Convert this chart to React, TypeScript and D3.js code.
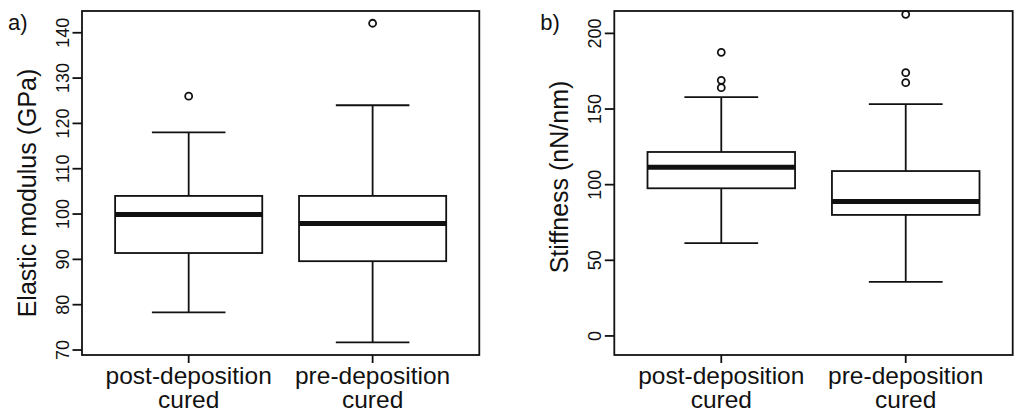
import React from 'react';
import * as d3 from 'd3';

// group labels (two lines each)
const groupLabels = [['post-deposition', 'cured'], ['pre-deposition', 'cured']];

// a) elastic modulus, GPa
const modulusLow = [78.3, 71.7];
const modulusQ1 = [91.4, 89.6];
const modulusMedian = [99.9, 97.9];
const modulusQ3 = [104.0, 104.0];
const modulusHigh = [118.0, 124.0];
const modulusOutliers = [[126.0], [142.1]];
const modulusTicks = [70, 80, 90, 100, 110, 120, 130, 140];

// b) stiffness, nN/nm
const stiffnessLow = [61.3, 35.7];
const stiffnessQ1 = [97.6, 80.0];
const stiffnessMedian = [111.5, 88.8];
const stiffnessQ3 = [121.6, 109.0];
const stiffnessHigh = [157.9, 153.3];
const stiffnessOutliers = [[187.5, 169.0, 164.1], [212.6, 174.0, 167.4]];
const stiffnessTicks = [0, 50, 100, 150, 200];

const ink = '#111';
const font = '"Liberation Sans", Arial, Helvetica, sans-serif';

type PanelProps = {
  tag: string;
  title: string;
  titleY: number;
  left: number;
  right: number;
  domain: [number, number];
  ticks: number[];
  low: number[];
  q1: number[];
  median: number[];
  q3: number[];
  high: number[];
  outliers: number[][];
};

const top = 11;
const bottom = 355;

const Panel = (p: PanelProps) => {
  const x = d3.scaleLinear().domain([0.42, 2.58]).range([p.left, p.right]);
  const y = d3.scaleLinear().domain(p.domain).range([bottom, top]);
  const boxHalf = x(0.4) - x(0);
  const capHalf = x(0.2) - x(0);

  return (
    <g>
      <text x={p.left - 74} y={30} fontSize={22} fontFamily={font} fill={ink}>{p.tag}</text>
      <text
        transform={`translate(${p.left - 46},${p.titleY}) rotate(-90)`}
        textAnchor="middle"
        fontSize={25}
        fontFamily={font}
        fill={ink}
      >
        {p.title}
      </text>
      {p.ticks.map(t => (
        <g key={t}>
          <line x1={p.left - 9.5} x2={p.left} y1={y(t)} y2={y(t)} stroke={ink} strokeWidth={1.8} />
          <text
            transform={`translate(${p.left - 13},${y(t)}) rotate(-90)`}
            textAnchor="middle"
            fontSize={18}
            fontFamily={font}
            fill={ink}
          >
            {t}
          </text>
        </g>
      ))}
      {groupLabels.map((lines, i) => (
        <g key={i}>
          <line x1={x(i + 1)} x2={x(i + 1)} y1={bottom} y2={bottom + 8} stroke={ink} strokeWidth={1.8} />
          {lines.map((l, j) => (
            <text
              key={j}
              x={x(i + 1)}
              y={383.5 + j * 24.5}
              textAnchor="middle"
              fontSize={24.5}
              fontFamily={font}
              fill={ink}
            >
              {l}
            </text>
          ))}
        </g>
      ))}
      {p.median.map((m, i) => {
        const cx = x(i + 1);
        return (
          <g key={i} stroke={ink} strokeWidth={1.8} fill="none">
            <line x1={cx} x2={cx} y1={y(p.high[i])} y2={y(p.q3[i])} />
            <line x1={cx} x2={cx} y1={y(p.q1[i])} y2={y(p.low[i])} />
            <line x1={cx - capHalf} x2={cx + capHalf} y1={y(p.high[i])} y2={y(p.high[i])} />
            <line x1={cx - capHalf} x2={cx + capHalf} y1={y(p.low[i])} y2={y(p.low[i])} />
            <rect
              x={cx - boxHalf}
              y={y(p.q3[i])}
              width={boxHalf * 2}
              height={y(p.q1[i]) - y(p.q3[i])}
              fill="#fff"
            />
            <line x1={cx - boxHalf} x2={cx + boxHalf} y1={y(m)} y2={y(m)} strokeWidth={5} />
            {p.outliers[i].map((o, k) => (
              <circle key={k} cx={cx} cy={y(o)} r={3.5} strokeWidth={1.8} />
            ))}
          </g>
        );
      })}
      <rect x={p.left} y={top} width={p.right - p.left} height={bottom - top} fill="none" stroke={ink} strokeWidth={1.8} />
    </g>
  );
};

const App: React.FC = () => (
  <svg
    width={1024}
    height={419}
    style={{ position: 'absolute', left: 0, top: 0, background: '#fff' }}
  >
    <Panel
      tag="a)"
      title="Elastic modulus (GPa)"
      titleY={193}
      left={82}
      right={479.3}
      domain={[68.9, 144.8]}
      ticks={modulusTicks}
      low={modulusLow}
      q1={modulusQ1}
      median={modulusMedian}
      q3={modulusQ3}
      high={modulusHigh}
      outliers={modulusOutliers}
    />
    <Panel
      tag="b)"
      title="Stiffness (nN/nm)"
      titleY={177}
      left={614.3}
      right={1012.7}
      domain={[-12.6, 214.8]}
      ticks={stiffnessTicks}
      low={stiffnessLow}
      q1={stiffnessQ1}
      median={stiffnessMedian}
      q3={stiffnessQ3}
      high={stiffnessHigh}
      outliers={stiffnessOutliers}
    />
  </svg>
);

export default App;
